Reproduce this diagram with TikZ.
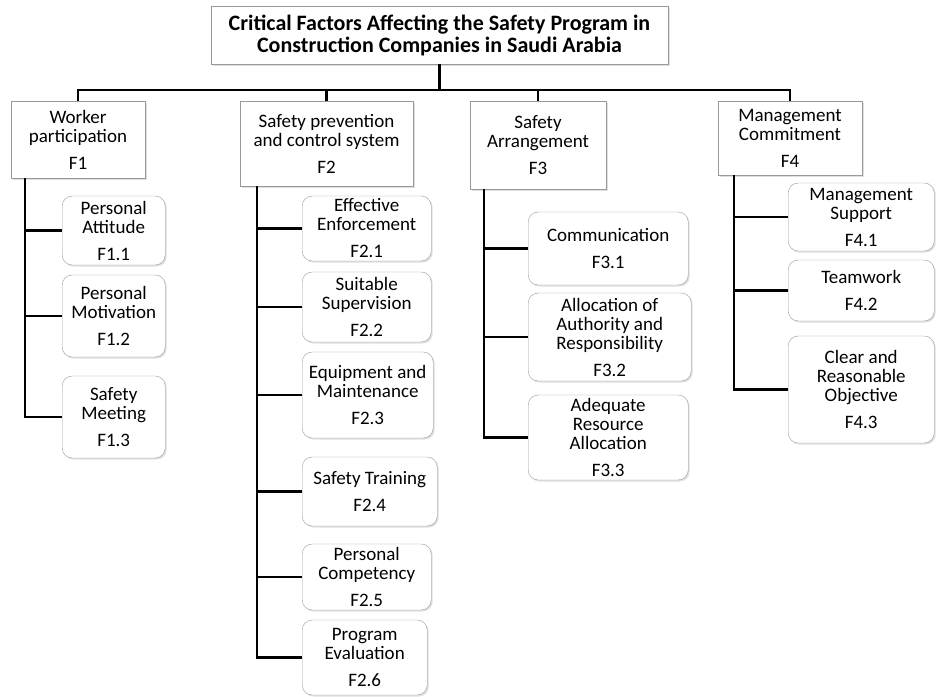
\documentclass[tikz,border=0pt]{standalone}
\usepackage{fontspec}
\setmainfont{Carlito}
\usetikzlibrary{shadows}

\begin{document}
\begin{tikzpicture}[x=1pt,y=-1pt,
  boxshadow/.style={drop shadow={shadow xshift=1.5pt,shadow yshift=-1.5pt,fill=black!25}},
  head/.style={draw=black!40,fill=white,align=center,inner sep=0pt,boxshadow,
    font=\bfseries\fontsize{22}{22}\selectfont},
  factor/.style={draw=black!40,fill=white,align=center,inner sep=0pt,boxshadow,
    font=\fontsize{19}{19}\selectfont},
  sub/.style={factor,rounded corners=10pt,anchor=west},
  link/.style={line width=2.6pt}]
\useasboundingbox (0,0) rectangle (936,696);

\node[head,minimum width=457pt,minimum height=58pt] (title) at (439.5,35)
  {Critical Factors Affecting the Safety Program in\\Construction Companies in Saudi Arabia};

\node[factor,minimum width=134pt,minimum height=77pt] (f1) at (78,139.5) {Worker\\participation\\[8pt]F1};
\node[factor,minimum width=173pt,minimum height=85pt] (f2) at (326.5,143.5) {Safety prevention\\and control system\\[8pt]F2};
\node[factor,minimum width=136pt,minimum height=88pt] (f3) at (538,145) {Safety\\Arrangement\\[8pt]F3};
\node[factor,minimum width=144pt,minimum height=74pt] (f4) at (790,138) {Management\\Commitment\\[8pt]F4};

\node[sub,minimum width=103pt,minimum height=69pt] (f11) at (62,230.5) {Personal\\Attitude\\[8pt]F1.1};
\node[sub,minimum width=103pt,minimum height=82pt] (f12) at (62,316) {Personal\\Motivation\\[8pt]F1.2};
\node[sub,minimum width=103pt,minimum height=82pt] (f13) at (62,417) {Safety\\Meeting\\[8pt]F1.3};

\node[sub,minimum width=129pt,minimum height=65pt] (f21) at (302,228.5) {Effective\\Enforcement\\[8pt]F2.1};
\node[sub,minimum width=129pt,minimum height=70pt] (f22) at (302,307) {Suitable\\Supervision\\[8pt]F2.2};
\node[sub,minimum width=131pt,minimum height=86pt] (f23) at (302,395) {Equipment and\\Maintenance\\[8pt]F2.3};
\node[sub,minimum width=135pt,minimum height=69pt] (f24) at (302,491.5) {Safety Training\\[8pt]F2.4};
\node[sub,minimum width=129pt,minimum height=66pt] (f25) at (302,577) {Personal\\Competency\\[8pt]F2.5};
\node[sub,minimum width=125pt,minimum height=75pt] (f26) at (302,657.5) {Program\\Evaluation\\[8pt]F2.6};

\node[sub,minimum width=160pt,minimum height=73pt] (f31) at (528,248.5) {Communication\\[8pt]F3.1};
\node[sub,minimum width=163pt,minimum height=88pt] (f32) at (528,337) {Allocation of\\Authority and\\Responsibility\\[8pt]F3.2};
\node[sub,minimum width=160pt,minimum height=85pt] (f33) at (528,437.5) {Adequate\\Resource\\Allocation\\[8pt]F3.3};

\node[sub,minimum width=146pt,minimum height=68pt] (f41) at (788,217) {Management\\Support\\[8pt]F4.1};
\node[sub,minimum width=146pt,minimum height=61pt] (f42) at (788,290.5) {Teamwork\\[8pt]F4.2};
\node[sub,minimum width=146pt,minimum height=107pt] (f43) at (788,389.5) {Clear and\\Reasonable\\Objective\\[8pt]F4.3};

\coordinate (bar) at (0,90);
\draw[link] (title.south) -- (title.south |- bar) -| (f1.north);
\draw[link] (title.south |- bar) -| (f2.north);
\draw[link] (title.south |- bar) -| (f3.north);
\draw[link] (title.south |- bar) -| (f4.north);

\coordinate (s1) at (25,0);
\coordinate (s2) at (257,0);
\coordinate (s3) at (484,0);
\coordinate (s4) at (734,0);

\draw[link] (f1.south -| s1) |- (f11.west);
\draw[link] (f1.south -| s1) |- (f12.west);
\draw[link] (f1.south -| s1) |- (f13.west);

\draw[link] (f2.south -| s2) |- (f21.west);
\draw[link] (f2.south -| s2) |- (f22.west);
\draw[link] (f2.south -| s2) |- (f23.west);
\draw[link] (f2.south -| s2) |- (f24.west);
\draw[link] (f2.south -| s2) |- (f25.west);
\draw[link] (f2.south -| s2) |- (f26.west);

\draw[link] (f3.south -| s3) |- (f31.west);
\draw[link] (f3.south -| s3) |- (f32.west);
\draw[link] (f3.south -| s3) |- (f33.west);

\draw[link] (f4.south -| s4) |- (f41.west);
\draw[link] (f4.south -| s4) |- (f42.west);
\draw[link] (f4.south -| s4) |- (f43.west);
\end{tikzpicture}
\end{document}
